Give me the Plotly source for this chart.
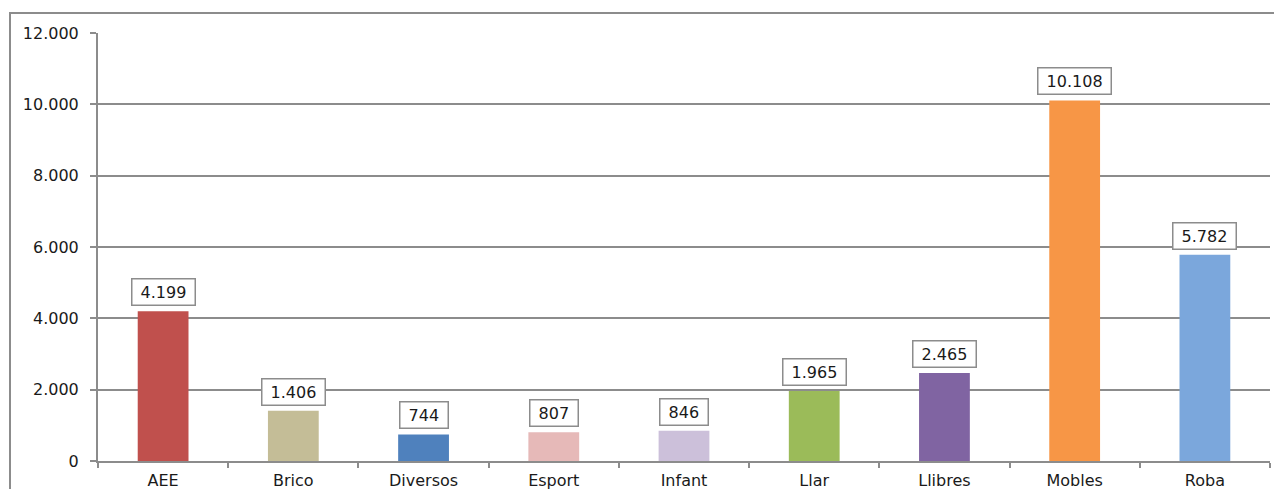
import plotly.graph_objects as go

categories = ["AEE", "Brico", "Diversos", "Esport", "Infant", "Llar", "Llibres", "Mobles", "Roba"]
values = [4199, 1406, 744, 807, 846, 1965, 2465, 10108, 5782]
value_labels = ["4.199", "1.406", "744", "807", "846", "1.965", "2.465", "10.108", "5.782"]
colors = ["#C0504D", "#C4BD97", "#4F81BD", "#E6B9B8", "#CCC0DA", "#9BBB59", "#8064A2", "#F79646", "#7BA7DC"]
tick_vals = [0, 2000, 4000, 6000, 8000, 10000, 12000]
tick_text = ["0", "2.000", "4.000", "6.000", "8.000", "10.000", "12.000"]

FONT = "DejaVu Sans"
GRAY = "#8c8c8c"
TXT = "#1a1a1a"

# page body has an 8px margin; figure sized so the plot lands where the reference has it
W, H = 1266, 481
L, R, T, B = 90, 4, 25, 28
PW = W - L - R
PH = H - T - B

fig = go.Figure(go.Bar(x=categories, y=values, marker=dict(color=colors, line=dict(width=0)),
                       hoverinfo="x+y"))

for c, v, t in zip(categories, values, value_labels):
    fig.add_annotation(x=c, y=v, text=" " + t + " ", showarrow=False, yanchor="bottom", yshift=5,
                       font=dict(family=FONT, size=16, color=TXT),
                       bgcolor="white", bordercolor=GRAY, borderwidth=1.5, borderpad=3)

# outer chart frame (partially cropped)
fig.add_shape(type="rect", xref="paper", yref="paper",
              x0=-(L - 2) / PW, x1=1 + 30 / PW,
              y0=-(B + 40) / PH, y1=1 + 20 / PH,
              line=dict(color=GRAY, width=2), layer="below")

fig.update_layout(
    width=W, height=H,
    margin=dict(l=L, r=R, t=T, b=B),
    paper_bgcolor="white", plot_bgcolor="white",
    bargap=0.61, showlegend=False,
    font=dict(family=FONT, size=16, color=TXT),
)
fig.update_yaxes(range=[0, 12000], tickvals=tick_vals, ticktext=tick_text,
                 showgrid=True, gridcolor=GRAY, gridwidth=1.5,
                 showline=True, linecolor=GRAY, linewidth=2,
                 ticks="outside", ticklen=6, tickcolor=GRAY, tickwidth=1.5,
                 ticklabelstandoff=8, automargin=False,
                 tickfont=dict(family=FONT, size=16, color=TXT), zeroline=False)
fig.update_xaxes(showline=True, linecolor=GRAY, linewidth=2,
                 ticks="outside", tickson="boundaries", ticklen=5, tickcolor=GRAY, tickwidth=1.5,
                 ticklabelstandoff=4, automargin=False,
                 tickfont=dict(family=FONT, size=16, color=TXT), showgrid=False)

fig.write_html("out.html")
